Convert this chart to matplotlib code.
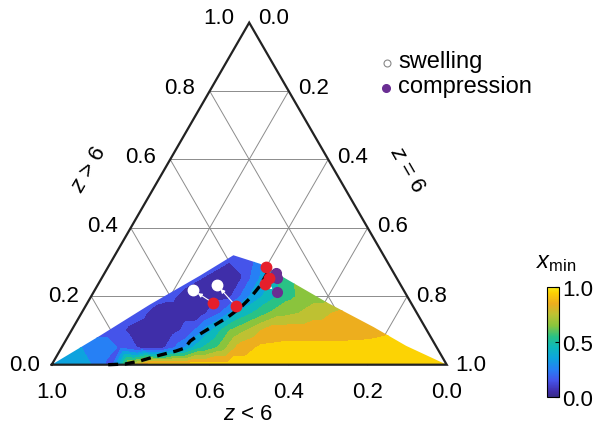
import numpy as np
import matplotlib
matplotlib.use("Agg")
import matplotlib.pyplot as plt
import matplotlib.tri as mtri
from matplotlib.colors import LinearSegmentedColormap, Normalize
from matplotlib.cm import ScalarMappable
from matplotlib.patches import Polygon

plt.rcParams['font.family'] = ['Liberation Sans', 'DejaVu Sans']
plt.rcParams['mathtext.fontset'] = 'custom'
plt.rcParams['mathtext.rm'] = 'Liberation Sans'
plt.rcParams['mathtext.it'] = 'Liberation Sans:italic'

nan = np.nan

# sample grid of x_min, rows = z>6 fraction, columns = z=6 fraction
b_grid = np.round(np.arange(0, 1.0001, 0.05), 2)
c_grid = [0.00, 0.05, 0.10, 0.15, 0.20, 0.25, 0.30, 0.35]
xmin_grid = [
    [0.35, 0.32, 0.30, 0.15, 0.75, 0.95, 0.95, 0.95, 0.95, 0.95, 0.95, 0.95, 0.95, 0.95, 0.95, 0.95, 0.95, 0.95, 0.95, 0.95, 0.95],
    [0.32, 0.30, 0.28, 0.18, 0.08, 0.05, 0.25, 0.48, 0.62, 0.84, 0.91, 0.92, 0.92, 0.92, 0.92, 0.93, 0.94, 0.95, 0.95, nan, nan],
    [nan, 0.15, 0.15, 0.08, 0.05, 0.05, 0.15, 0.38, 0.60, 0.72, 0.85, 0.86, 0.86, 0.86, 0.86, 0.86, 0.88, nan, nan, nan, nan],
    [nan, nan, 0.15, 0.12, 0.05, 0.05, 0.05, 0.20, 0.42, 0.55, 0.66, 0.70, 0.76, 0.82, 0.85, nan, nan, nan, nan, nan, nan],
    [nan, nan, nan, 0.15, 0.12, 0.05, 0.05, 0.08, 0.30, 0.45, 0.57, 0.65, 0.66, nan, nan, nan, nan, nan, nan, nan, nan],
    [nan, nan, nan, nan, 0.15, 0.10, 0.05, 0.08, 0.30, 0.50, 0.62, nan, nan, nan, nan, nan, nan, nan, nan, nan, nan],
    [nan, nan, nan, nan, nan, 0.15, 0.10, 0.15, 0.35, nan, nan, nan, nan, nan, nan, nan, nan, nan, nan, nan, nan],
    [nan, nan, nan, nan, nan, 0.15, 0.15, 0.18, 0.30, nan, nan, nan, nan, nan, nan, nan, nan, nan, nan, nan, nan],
]

# outline of the sampled region (z=6, z>6 fractions)
region_b = [0.00, 0.08, 0.16, 0.245, 0.30, 0.38, 0.45, 0.61, 0.76, 0.87, 1.00]
region_c = [0.00, 0.085, 0.175, 0.26, 0.32, 0.295, 0.26, 0.18, 0.11, 0.055, 0.00]

# dashed boundary
dash_b = [0.143, 0.185, 0.218, 0.260, 0.295, 0.313, 0.316, 0.331, 0.355, 0.377, 0.394, 0.405, 0.412, 0.412]
dash_c = [0.000, 0.002, 0.011, 0.028, 0.040, 0.049, 0.069, 0.090, 0.116, 0.140, 0.166, 0.195, 0.230, 0.271]

# swelling: red start -> white end; compression: red start -> purple end
swell_b0 = [0.319, 0.381]
swell_c0 = [0.180, 0.171]
swell_b1 = [0.249, 0.301]
swell_c1 = [0.218, 0.234]
comp_b0 = [0.399, 0.424, 0.422]
comp_c0 = [0.285, 0.252, 0.236]
comp_b1 = [0.434, 0.445, 0.465]
comp_c1 = [0.267, 0.253, 0.212]

tick_vals = [0.0, 0.2, 0.4, 0.6, 0.8, 1.0]
cbar_ticks = [0.0, 0.5, 1.0]

parula = LinearSegmentedColormap.from_list("parula_like", [
    (0.00, (0.21, 0.17, 0.53)),
    (0.05, (0.25, 0.18, 0.67)),
    (0.15, (0.27, 0.33, 0.92)),
    (0.25, (0.15, 0.50, 0.96)),
    (0.35, (0.05, 0.64, 0.87)),
    (0.45, (0.05, 0.72, 0.74)),
    (0.55, (0.16, 0.76, 0.52)),
    (0.65, (0.54, 0.77, 0.24)),
    (0.75, (0.74, 0.76, 0.20)),
    (0.85, (0.93, 0.68, 0.12)),
    (0.95, (0.99, 0.82, 0.01)),
    (1.00, (0.98, 0.93, 0.10)),
])

S3 = np.sqrt(3) / 2
PX = 1 / 395.0


def tern(b, c):
    b = np.asarray(b, float)
    c = np.asarray(c, float)
    return b + c / 2, c * S3


def at(px, py):
    # pixel position in the 600x431 picture -> data coords
    return (px - 51.7) * PX, (365.7 - py) * PX


fig = plt.figure(figsize=(6.0, 4.31), dpi=100)
ax = fig.add_axes([0, 0, 1, 1])
ax.set_xlim(-51.7 * PX, (600 - 51.7) * PX)
ax.set_ylim((365.7 - 431) * PX, 365.7 * PX)
ax.axis("off")

# grid lines
for v in tick_vals[1:-1]:
    for p, q in [((0, v), (1 - v, v)), ((v, 0), (v, 1 - v)), ((0, 1 - v), (1 - v, 0))]:
        x, y = tern([p[0], q[0]], [p[1], q[1]])
        ax.plot(x, y, color="#8c8c8c", lw=0.7, zorder=1)

# filled field
B, C = np.meshgrid(b_grid, c_grid)
Z = np.array(xmin_grid)
ok = ~np.isnan(Z)
X, Y = tern(B[ok], C[ok])
tri = mtri.Triangulation(X, Y)
cs = ax.tricontourf(tri, Z[ok], levels=np.linspace(0, 1, 11), cmap=parula, zorder=2)
rx, ry = tern(region_b, region_c)
clip = Polygon(np.column_stack([rx, ry]), closed=True, transform=ax.transData, fill=False, lw=0)
ax.add_patch(clip)
cs.set_clip_path(clip)

# triangle outline
tx, ty = tern([0, 1, 0, 0], [0, 0, 1, 0])
ax.plot(tx, ty, color="#222222", lw=1.6, zorder=5, solid_joinstyle="miter")

# dashed line
dx, dy = tern(dash_b, dash_c)
ax.plot(dx, dy, color="black", lw=2.4, dashes=(3.0, 2.0), zorder=6)

# arrows and points
for b0, c0, b1, c1 in list(zip(swell_b0, swell_c0, swell_b1, swell_c1)) + list(zip(comp_b0, comp_c0, comp_b1, comp_c1)):
    p0 = tern(b0, c0)
    p1 = tern(b1, c1)
    ax.annotate("", xy=p1, xytext=p0,
                arrowprops=dict(arrowstyle="-|>", color="white", lw=0.8,
                                mutation_scale=6, shrinkA=3, shrinkB=4), zorder=7)
x, y = tern(swell_b1, swell_c1)
ax.plot(x, y, "o", color="white", ms=7.5, mec="white", zorder=8)
x, y = tern(comp_b1, comp_c1)
ax.plot(x, y, "o", color="#6a2e93", ms=7, mec="#6a2e93", zorder=8)
x, y = tern(swell_b0 + comp_b0, swell_c0 + comp_c0)
ax.plot(x, y, "o", color="#e61f2b", ms=7.5, mec="#e61f2b", zorder=9)

# tick labels
fs = 16
for v in tick_vals:
    lab = f"{v:.1f}"
    # left side: z > 6
    x, y = tern(0, v)
    ax.text(x - (12 + 3 * v) * PX, y + 5 * v * PX, lab, ha="right", va="center", fontsize=fs)
    # right side: z = 6 (0 at top)
    x, y = tern(v, 1 - v)
    ax.text(x + 9 * PX, y + 5 * (1 - v) * PX, lab, ha="left", va="center", fontsize=fs)
    # bottom: z < 6 (1 at left)
    x, y = tern(1 - v, 0)
    ax.text(x, y - 16 * PX, lab, ha="center", va="top", fontsize=fs)

ax.text(*at(248, 415), r"$z$ < 6", ha="center", va="center", fontsize=fs)
ax.text(*at(89, 170), r"$z$ > 6", ha="center", va="center", fontsize=fs, rotation=60)
ax.text(*at(407, 170), r"$z$ = 6", ha="center", va="center", fontsize=fs, rotation=-60)

# legend
ax.plot(*at(386.5, 64), "o", ms=5, mfc="white", mec="#888888", mew=0.8, zorder=10)
ax.plot(*at(385.5, 89), "o", ms=5.5, mfc="#6a2e93", mec="#6a2e93", zorder=10)
ax.text(*at(398, 62), "swelling", ha="left", va="center", fontsize=17)
ax.text(*at(398, 87), "compression", ha="left", va="center", fontsize=17)

# colorbar
cax = fig.add_axes([547 / 600, (431 - 398) / 431, 12 / 600, 110 / 431])
cb = fig.colorbar(ScalarMappable(norm=Normalize(0, 1), cmap=parula), cax=cax, ticks=cbar_ticks)
cb.ax.set_yticklabels([f"{t:.1f}" for t in cbar_ticks])
cb.ax.tick_params(direction="in", length=3, width=0.8, labelsize=fs, pad=2)
cb.outline.set_linewidth(0.8)
fig.text(556 / 600, 1 - 263 / 431, r"$x_{\rm min}$", ha="center", va="center", fontsize=fs + 1)

fig.savefig("out.png", dpi=100)
